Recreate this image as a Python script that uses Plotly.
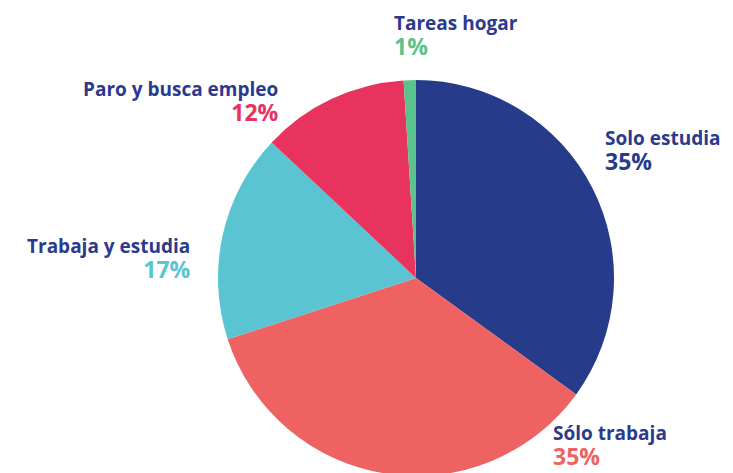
import plotly.graph_objects as go

# ---- data ----
categories = ["Solo estudia", "Sólo trabaja", "Trabaja y estudia", "Paro y busca empleo", "Tareas hogar"]
values = [35, 35, 17, 12, 1]
pct_labels = ["35%", "35%", "17%", "12%", "1%"]

# ---- style ----
colors = ["#263b8a", "#ef6262", "#5ac4d2", "#e8335f", "#5cc28b"]
name_color = "#2b3a8c"
W, H = 733, 473
FONT = "Open Sans"
OFF = 8  # page body margin

# label block centre positions in page pixels: (x, y, xanchor)
label_pos = [
    (603, 151, "left"),
    (551, 446, "left"),
    (193, 259, "right"),
    (281, 102, "right"),
    (392, 36, "left"),
]

cx, cy, r = 416 - OFF, 278 - OFF, 198
fig = go.Figure(go.Pie(
    labels=categories,
    values=values,
    sort=False,
    direction="clockwise",
    rotation=0,
    marker=dict(colors=colors, line=dict(width=0)),
    textinfo="none",
    hoverinfo="label+percent",
    domain=dict(x=[(cx - r) / W, (cx + r) / W], y=[max(0, (H - cy - r) / H), (H - cy + r) / H]),
    showlegend=False,
))

annotations = []
for name, pct, col, (x, y, anc) in zip(categories, pct_labels, colors, label_pos):
    annotations.append(dict(
        x=(x - OFF) / W, y=1 - (y - OFF) / H, xref="paper", yref="paper",
        text=f"<b>{name}</b><br><span style='color:{col};font-size:23px'><b>{pct}</b></span>",
        showarrow=False, xanchor=anc, yanchor="middle", align=anc,
        font=dict(family=FONT, size=19, color=name_color),
    ))

fig.update_layout(
    width=W, height=H,
    margin=dict(l=0, r=0, t=0, b=0),
    paper_bgcolor="white", plot_bgcolor="white",
    annotations=annotations,
)
fig.write_html("out.html")
